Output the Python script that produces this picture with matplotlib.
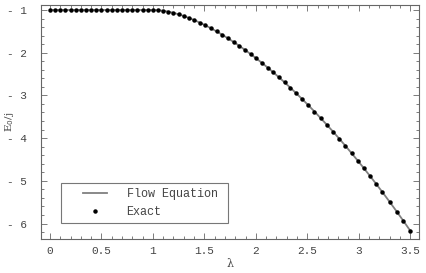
import matplotlib
matplotlib.use('Agg')
import matplotlib.pyplot as plt
from matplotlib.ticker import MultipleLocator
from matplotlib.patches import Rectangle

# ground state energy
lam_flat = [0.00, 0.05, 0.10, 0.15, 0.20, 0.25, 0.30, 0.35, 0.40, 0.45, 0.50,
            0.55, 0.60, 0.65, 0.70, 0.75, 0.80, 0.85, 0.90, 0.95, 1.00]
e_flat = [-1.0] * len(lam_flat)

lam_curve = [1.05, 1.10, 1.15, 1.20, 1.25, 1.30, 1.35, 1.40, 1.455, 1.51,
             1.565, 1.62, 1.675, 1.73, 1.785, 1.84, 1.895, 1.95, 2.005, 2.06,
             2.115, 2.17, 2.225, 2.28, 2.335, 2.39, 2.45, 2.51, 2.57, 2.63,
             2.69, 2.75, 2.81, 2.87, 2.93, 2.99, 3.05, 3.11, 3.17, 3.23,
             3.30, 3.37, 3.435, 3.50]
e_curve = [-1.005, -1.018, -1.039, -1.067, -1.101, -1.141, -1.186, -1.235,
           -1.295, -1.359, -1.429, -1.503, -1.581, -1.664, -1.750, -1.840,
           -1.935, -2.033, -2.134, -2.240, -2.348, -2.461, -2.576, -2.695,
           -2.818, -2.944, -3.085, -3.229, -3.378, -3.531, -3.687, -3.847,
           -4.011, -4.179, -4.351, -4.526, -4.705, -4.888, -5.074, -5.264,
           -5.491, -5.722, -5.942, -6.166]

lam = lam_flat + lam_curve
e0 = e_flat + e_curve

xticks = [0, 0.5, 1, 1.5, 2, 2.5, 3, 3.5]
xtick_labels = ['0', '0.5', '1', '1.5', '2', '2.5', '3', '3.5']
yticks = [-1, -2, -3, -4, -5, -6]
ytick_labels = ['- 1', '- 2', '- 3', '- 4', '- 5', '- 6']

mono = 'Liberation Mono'
txt_color = '#444444'

fig = plt.figure(figsize=(4.26, 2.73), dpi=100)
ax = fig.add_axes([0.0962, 0.1245, 0.8874, 0.8572])

ax.plot(lam, e0, color='#808080', lw=1.3, label='Flow Equation', zorder=2)
ax.plot(lam, e0, ls='none', marker='o', ms=2.2, color='black',
        label='Exact', zorder=3)

ax.set_xlim(-0.0875, 3.586)
ax.set_ylim(-6.363, -0.883)

ax.set_xticks(xticks)
ax.set_xticklabels(xtick_labels, family=mono, fontsize=8, color=txt_color)
ax.set_yticks(yticks)
ax.set_yticklabels(ytick_labels, family=mono, fontsize=8, color=txt_color)
ax.xaxis.set_minor_locator(MultipleLocator(0.1))
ax.yaxis.set_minor_locator(MultipleLocator(0.2))
ax.tick_params(which='both', direction='in', top=True, right=True,
               color='#666666', width=0.6)
ax.tick_params(which='major', length=4)
ax.tick_params(which='minor', length=2)
ax.tick_params(axis='x', which='major', pad=5)
ax.tick_params(axis='y', which='major', pad=10)
for s in ax.spines.values():
    s.set_color('#666666')
    s.set_linewidth(0.8)

ax.set_xlabel('λ', family='DejaVu Serif', fontsize=8, color=txt_color,
              labelpad=2)
ax.set_ylabel('E$_0$/j', family='DejaVu Serif', fontsize=7.5, color=txt_color)
ax.yaxis.set_label_coords(-0.066, 0.5)

# legend box
ax.add_patch(Rectangle((0.053, 0.068), 0.442, 0.171, transform=ax.transAxes,
                       facecolor='white', edgecolor='#777777', lw=0.8,
                       zorder=4))
leg = ax.legend(loc='upper left', bbox_to_anchor=(0.111, 0.218),
                prop={'family': mono, 'size': 8.5}, frameon=False,
                handlelength=2.0, handletextpad=1.7, borderpad=0,
                labelspacing=0.55, borderaxespad=0)
leg.set_zorder(5)
for t in leg.get_texts():
    t.set_color(txt_color)

fig.savefig('out.png', dpi=100)
